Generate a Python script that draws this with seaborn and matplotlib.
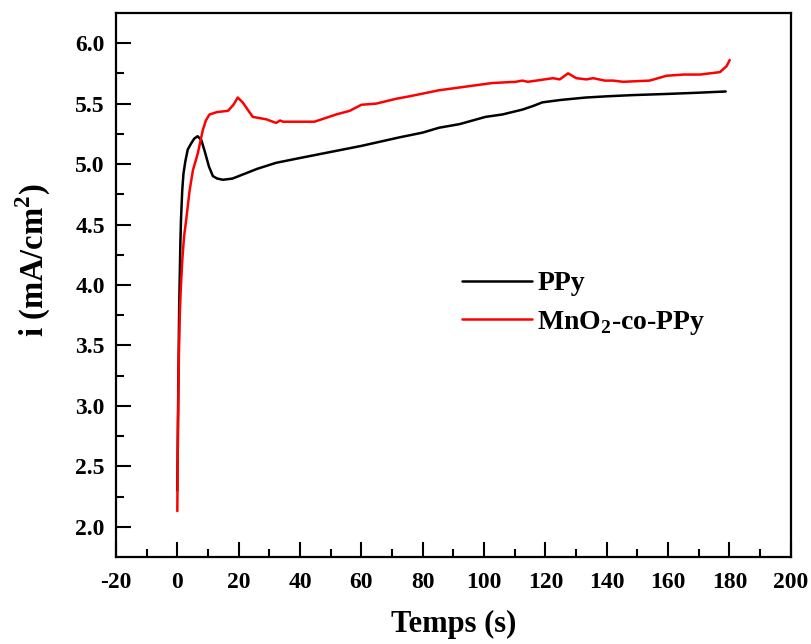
import pandas as pd
import matplotlib.pyplot as plt
import seaborn as sns

# values
t_ppy = [0, 0.3, 0.6, 1.0, 1.2, 1.6, 2.0, 2.6, 3.4, 4.5, 5.5, 6.6, 7.8, 9.0, 10.3, 11.6, 13.0, 14.9,
         18, 22, 26, 32.2, 40, 50, 60, 72.3, 80, 85.3, 92, 100.5, 106, 112.5, 116, 119, 125, 133.2,
         140, 148.4, 160, 170, 178.8]
i_ppy = [2.30, 3.10, 3.80, 4.35, 4.54, 4.78, 4.92, 5.02, 5.12, 5.17, 5.21, 5.23, 5.20, 5.10, 4.98,
         4.90, 4.88, 4.87, 4.88, 4.92, 4.96, 5.01, 5.05, 5.10, 5.15, 5.22, 5.26, 5.30, 5.33, 5.39,
         5.41, 5.45, 5.48, 5.51, 5.53, 5.55, 5.56, 5.57, 5.58, 5.59, 5.60]

t_mno2 = [0, 0.2, 0.5, 0.8, 1.1, 1.6, 2.2, 2.9, 4.0, 5.1, 6.7, 8.3, 9.3, 10.5, 13, 16.5, 18.3,
          19.7, 21.3, 24.6, 29, 32.2, 33.5, 34.5, 40, 44.7, 51.8, 56.2, 60, 64.9, 71.4, 75.7,
          85.3, 94, 102.7, 110.3, 112.5, 114.3, 122.5, 124.7, 127.4, 130.1, 133.4, 135.6, 139.4,
          142.1, 145.3, 154, 159.5, 165, 170.4, 176.9, 179.1, 180.1]
i_mno2 = [2.13, 2.80, 3.40, 3.75, 3.95, 4.20, 4.40, 4.54, 4.78, 4.95, 5.09, 5.28, 5.36, 5.41,
          5.43, 5.44, 5.49, 5.55, 5.51, 5.39, 5.37, 5.34, 5.36, 5.35, 5.35, 5.35, 5.41, 5.44,
          5.49, 5.50, 5.54, 5.56, 5.61, 5.64, 5.67, 5.68, 5.69, 5.68, 5.71, 5.70, 5.75, 5.71,
          5.70, 5.71, 5.69, 5.69, 5.68, 5.69, 5.73, 5.74, 5.74, 5.76, 5.81, 5.86]

labels = ['PPy', r'MnO$_\mathbf{2}$-co-PPy']
colors = ['black', 'red']

df = pd.concat([
    pd.DataFrame({'t': t_ppy, 'i': i_ppy, 'sample': labels[0]}),
    pd.DataFrame({'t': t_mno2, 'i': i_mno2, 'sample': labels[1]}),
])

sns.set_style('ticks', {'axes.edgecolor': 'black', 'text.color': 'black',
                        'axes.labelcolor': 'black', 'xtick.color': 'black',
                        'ytick.color': 'black'})
plt.rcParams['font.family'] = ['Liberation Serif', 'DejaVu Serif']
plt.rcParams['font.weight'] = 'bold'
plt.rcParams['mathtext.fontset'] = 'custom'
plt.rcParams['mathtext.rm'] = 'Liberation Serif:bold'
plt.rcParams['mathtext.bf'] = 'Liberation Serif:bold'
plt.rcParams['axes.unicode_minus'] = False

fig = plt.figure(figsize=(8.11, 6.44), dpi=100)
ax = fig.add_axes([0.143, 0.135, 0.832, 0.845])

sns.lineplot(data=df, x='t', y='i', hue='sample', palette=colors, hue_order=labels,
             sort=False, estimator=None, linewidth=1.8, ax=ax)

ax.set_xlim(-20, 200)
ax.set_ylim(1.75, 6.25)
ax.set_xticks(range(-20, 201, 20))
ax.set_xticks(range(-10, 200, 20), minor=True)
ax.set_yticks([2.0, 2.5, 3.0, 3.5, 4.0, 4.5, 5.0, 5.5, 6.0])
ax.set_yticks([2.25, 2.75, 3.25, 3.75, 4.25, 4.75, 5.25, 5.75], minor=True)
ax.set_yticklabels([f'{v:.1f}' for v in ax.get_yticks()])
ax.tick_params(which='both', direction='in', width=1.5, labelsize=17, pad=8,
               bottom=True, left=True, top=False, right=False)
ax.tick_params(which='major', length=11)
ax.tick_params(which='minor', length=6)
ax.tick_params(axis='x', pad=11)
for s in ax.spines.values():
    s.set_linewidth(1.6)
    s.set_color('black')

ax.set_xlabel('Temps (s)', fontsize=22, fontweight='bold', labelpad=12)
ax.set_ylabel(r'i (mA/cm$^\mathbf{2}$)', fontsize=23.5, fontweight='bold')
ax.yaxis.set_label_coords(-0.094, 0.546)

ax.legend(frameon=False, loc='center left', bbox_to_anchor=(0.476, 0.465),
          fontsize=20, handlelength=2.5, handletextpad=0.2, labelspacing=0.45)

fig.savefig('out.png', dpi=100)
